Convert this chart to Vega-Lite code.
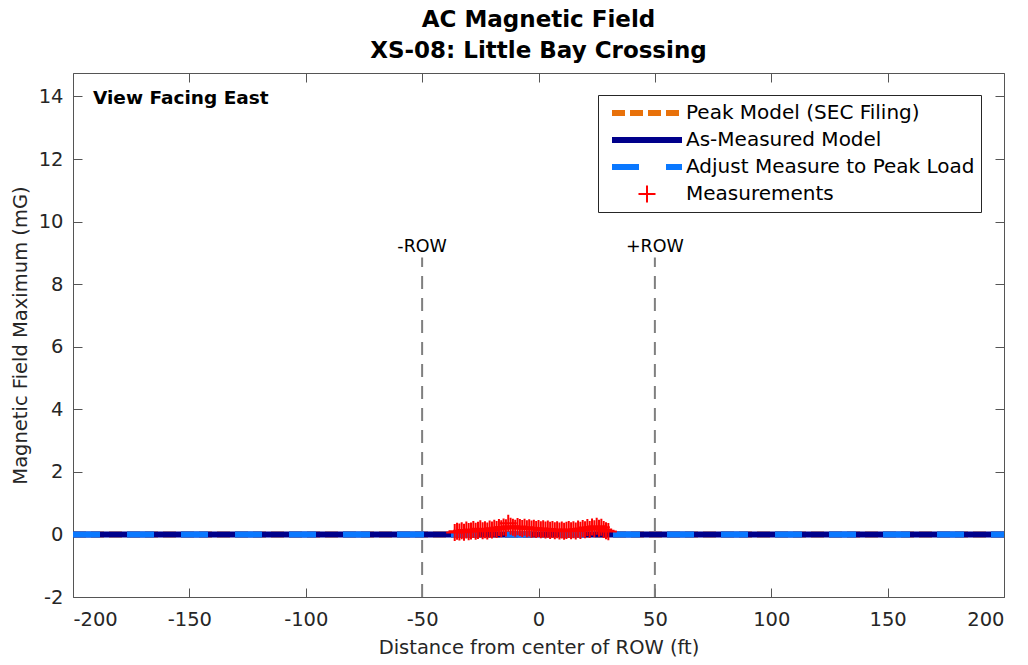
{
  "$schema": "https://vega.github.io/schema/vega-lite/v6.json",
  "width": 931,
  "height": 524,
  "autosize": {"type": "none"},
  "padding": {"left": 73, "top": 73, "right": 24, "bottom": 68},
  "background": "white",
  "title": {
    "text": ["AC Magnetic Field", "XS-08: Little Bay Crossing"],
    "font": "DejaVu Sans",
    "fontSize": 23,
    "fontWeight": "bold",
    "color": "#000000",
    "lineHeight": 31,
    "anchor": "middle",
    "baseline": "bottom",
    "offset": -13
  },
  "datasets": {
    "lines": [
      {"series": "Peak Model (SEC Filing)", "x": -200, "y": 0},
      {"series": "Peak Model (SEC Filing)", "x": -150, "y": 0},
      {"series": "Peak Model (SEC Filing)", "x": -100, "y": 0},
      {"series": "Peak Model (SEC Filing)", "x": -50, "y": 0},
      {"series": "Peak Model (SEC Filing)", "x": 0, "y": 0},
      {"series": "Peak Model (SEC Filing)", "x": 50, "y": 0},
      {"series": "Peak Model (SEC Filing)", "x": 100, "y": 0},
      {"series": "Peak Model (SEC Filing)", "x": 150, "y": 0},
      {"series": "Peak Model (SEC Filing)", "x": 200, "y": 0},
      {"series": "As-Measured Model", "x": -200, "y": 0},
      {"series": "As-Measured Model", "x": -150, "y": 0},
      {"series": "As-Measured Model", "x": -100, "y": 0},
      {"series": "As-Measured Model", "x": -50, "y": 0},
      {"series": "As-Measured Model", "x": 0, "y": 0},
      {"series": "As-Measured Model", "x": 50, "y": 0},
      {"series": "As-Measured Model", "x": 100, "y": 0},
      {"series": "As-Measured Model", "x": 150, "y": 0},
      {"series": "As-Measured Model", "x": 200, "y": 0},
      {"series": "Adjust Measure to Peak Load", "x": -200, "y": 0},
      {"series": "Adjust Measure to Peak Load", "x": -150, "y": 0},
      {"series": "Adjust Measure to Peak Load", "x": -100, "y": 0},
      {"series": "Adjust Measure to Peak Load", "x": -50, "y": 0},
      {"series": "Adjust Measure to Peak Load", "x": 0, "y": 0},
      {"series": "Adjust Measure to Peak Load", "x": 50, "y": 0},
      {"series": "Adjust Measure to Peak Load", "x": 100, "y": 0},
      {"series": "Adjust Measure to Peak Load", "x": 150, "y": 0},
      {"series": "Adjust Measure to Peak Load", "x": 200, "y": 0}
    ],
    "meas": [
      {"series": "Measurements", "x": -36, "y": 0.06},
      {"series": "Measurements", "x": -35, "y": 0.10},
      {"series": "Measurements", "x": -34, "y": 0.08},
      {"series": "Measurements", "x": -33, "y": 0.12},
      {"series": "Measurements", "x": -32, "y": 0.07},
      {"series": "Measurements", "x": -31, "y": 0.14},
      {"series": "Measurements", "x": -30, "y": 0.09},
      {"series": "Measurements", "x": -29, "y": 0.11},
      {"series": "Measurements", "x": -28, "y": 0.16},
      {"series": "Measurements", "x": -27, "y": 0.10},
      {"series": "Measurements", "x": -26, "y": 0.13},
      {"series": "Measurements", "x": -25, "y": 0.18},
      {"series": "Measurements", "x": -24, "y": 0.12},
      {"series": "Measurements", "x": -23, "y": 0.15},
      {"series": "Measurements", "x": -22, "y": 0.11},
      {"series": "Measurements", "x": -21, "y": 0.17},
      {"series": "Measurements", "x": -20, "y": 0.14},
      {"series": "Measurements", "x": -19, "y": 0.20},
      {"series": "Measurements", "x": -18, "y": 0.16},
      {"series": "Measurements", "x": -17, "y": 0.22},
      {"series": "Measurements", "x": -16, "y": 0.18},
      {"series": "Measurements", "x": -15, "y": 0.24},
      {"series": "Measurements", "x": -14, "y": 0.21},
      {"series": "Measurements", "x": -13, "y": 0.36},
      {"series": "Measurements", "x": -12, "y": 0.26},
      {"series": "Measurements", "x": -11, "y": 0.23},
      {"series": "Measurements", "x": -10, "y": 0.20},
      {"series": "Measurements", "x": -9, "y": 0.25},
      {"series": "Measurements", "x": -8, "y": 0.22},
      {"series": "Measurements", "x": -7, "y": 0.19},
      {"series": "Measurements", "x": -6, "y": 0.23},
      {"series": "Measurements", "x": -5, "y": 0.18},
      {"series": "Measurements", "x": -4, "y": 0.21},
      {"series": "Measurements", "x": -3, "y": 0.17},
      {"series": "Measurements", "x": -2, "y": 0.20},
      {"series": "Measurements", "x": -1, "y": 0.16},
      {"series": "Measurements", "x": 0, "y": 0.19},
      {"series": "Measurements", "x": 1, "y": 0.15},
      {"series": "Measurements", "x": 2, "y": 0.18},
      {"series": "Measurements", "x": 3, "y": 0.14},
      {"series": "Measurements", "x": 4, "y": 0.17},
      {"series": "Measurements", "x": 5, "y": 0.13},
      {"series": "Measurements", "x": 6, "y": 0.16},
      {"series": "Measurements", "x": 7, "y": 0.12},
      {"series": "Measurements", "x": 8, "y": 0.15},
      {"series": "Measurements", "x": 9, "y": 0.11},
      {"series": "Measurements", "x": 10, "y": 0.14},
      {"series": "Measurements", "x": 11, "y": 0.10},
      {"series": "Measurements", "x": 12, "y": 0.13},
      {"series": "Measurements", "x": 13, "y": 0.16},
      {"series": "Measurements", "x": 14, "y": 0.12},
      {"series": "Measurements", "x": 15, "y": 0.15},
      {"series": "Measurements", "x": 16, "y": 0.11},
      {"series": "Measurements", "x": 17, "y": 0.17},
      {"series": "Measurements", "x": 18, "y": 0.13},
      {"series": "Measurements", "x": 19, "y": 0.19},
      {"series": "Measurements", "x": 20, "y": 0.15},
      {"series": "Measurements", "x": 21, "y": 0.22},
      {"series": "Measurements", "x": 22, "y": 0.16},
      {"series": "Measurements", "x": 23, "y": 0.24},
      {"series": "Measurements", "x": 24, "y": 0.18},
      {"series": "Measurements", "x": 25, "y": 0.26},
      {"series": "Measurements", "x": 26, "y": 0.20},
      {"series": "Measurements", "x": 27, "y": 0.23},
      {"series": "Measurements", "x": 28, "y": 0.16},
      {"series": "Measurements", "x": 29, "y": 0.12},
      {"series": "Measurements", "x": 30, "y": 0.09}
    ],
    "row": [
      {"x": -50, "y0": -2, "y1": 8.85, "ty": 9.2, "label": "-ROW"},
      {"x": 50, "y0": -2, "y1": 8.85, "ty": 9.2, "label": "+ROW"}
    ],
    "note": [
      {"x": -191.4, "y": 13.96, "label": "View Facing East"}
    ]
  },
  "layer": [
    {
      "data": {"name": "lines"},
      "transform": [{"filter": "datum.series === 'Peak Model (SEC Filing)'"}],
      "mark": {"type": "line", "strokeWidth": 6, "strokeCap": "butt"},
      "encoding": {
        "x": {
          "field": "x", "type": "quantitative",
          "scale": {"domain": [-200, 200], "nice": false, "zero": false},
          "axis": {
            "values": [-200, -150, -100, -50, 0, 50, 100, 150, 200],
            "title": "Distance from center of ROW (ft)",
            "orient": "bottom",
            "labelPadding": 22,
            "titlePadding": 10,
            "labelExpr": "replace(datum.label, '\u2212', '-')"
          }
        },
        "y": {
          "field": "y", "type": "quantitative",
          "scale": {"domain": [-2, 14.75], "nice": false, "zero": false},
          "axis": {
            "values": [-2, 0, 2, 4, 6, 8, 10, 12, 14],
            "title": "Magnetic Field Maximum (mG)",
            "orient": "left",
            "labelPadding": 19,
            "titlePadding": 8,
            "labelExpr": "replace(datum.label, '\u2212', '-')"
          }
        },
        "color": {
          "field": "series", "type": "nominal",
          "scale": {
            "domain": ["Peak Model (SEC Filing)", "As-Measured Model", "Adjust Measure to Peak Load", "Measurements"],
            "range": ["#e8710a", "#00008b", "#0a78ff", "#ff0000"]
          },
          "legend": {"title": null}
        },
        "strokeDash": {
          "field": "series", "type": "nominal",
          "scale": {
            "domain": ["Peak Model (SEC Filing)", "As-Measured Model", "Adjust Measure to Peak Load", "Measurements"],
            "range": [[13, 5], [1, 0], [27, 27], [1, 0]]
          },
          "legend": {"title": null}
        }
      }
    },
    {
      "data": {"name": "lines"},
      "transform": [{"filter": "datum.series === 'As-Measured Model'"}],
      "mark": {"type": "line", "strokeWidth": 6, "strokeCap": "butt"},
      "encoding": {
        "x": {"field": "x", "type": "quantitative", "axis": null},
        "y": {"field": "y", "type": "quantitative", "axis": null},
        "color": {"field": "series", "type": "nominal", "legend": {"title": null}},
        "strokeDash": {"field": "series", "type": "nominal", "legend": {"title": null}}
      }
    },
    {
      "data": {"name": "lines"},
      "transform": [{"filter": "datum.series === 'Adjust Measure to Peak Load'"}],
      "mark": {"type": "line", "strokeWidth": 6, "strokeCap": "butt"},
      "encoding": {
        "x": {"field": "x", "type": "quantitative", "axis": null},
        "y": {"field": "y", "type": "quantitative", "axis": null},
        "color": {"field": "series", "type": "nominal", "legend": {"title": null}},
        "strokeDash": {"field": "series", "type": "nominal", "legend": {"title": null}}
      }
    },
    {
      "data": {"name": "meas"},
      "mark": {"type": "point", "filled": false, "opacity": 1},
      "encoding": {
        "x": {"field": "x", "type": "quantitative", "axis": null},
        "y": {"field": "y", "type": "quantitative", "axis": null},
        "color": {"field": "series", "type": "nominal", "legend": {"title": null}},
        "shape": {
          "field": "series", "type": "nominal",
          "scale": {
            "domain": ["Peak Model (SEC Filing)", "As-Measured Model", "Adjust Measure to Peak Load", "Measurements"],
            "range": ["stroke", "stroke", "stroke", "M-1,0H1M0,-1V1"]
          },
          "legend": {"title": null}
        },
        "size": {
          "field": "series", "type": "nominal",
          "scale": {
            "type": "ordinal",
            "domain": ["Peak Model (SEC Filing)", "As-Measured Model", "Adjust Measure to Peak Load", "Measurements"],
            "range": [4900, 4900, 4900, 290]
          },
          "legend": {"title": null}
        },
        "strokeWidth": {
          "field": "series", "type": "nominal",
          "scale": {
            "type": "ordinal",
            "domain": ["Peak Model (SEC Filing)", "As-Measured Model", "Adjust Measure to Peak Load", "Measurements"],
            "range": [6, 6, 6, 2]
          },
          "legend": {"title": null}
        }
      }
    },
    {
      "data": {"name": "row"},
      "mark": {"type": "rule", "color": "#7f7f7f", "strokeWidth": 2, "strokeDash": [13, 9]},
      "encoding": {
        "x": {"field": "x", "type": "quantitative", "axis": null},
        "y": {"field": "y0", "type": "quantitative", "axis": null},
        "y2": {"field": "y1"}
      }
    },
    {
      "data": {"name": "row"},
      "mark": {"type": "text", "font": "DejaVu Sans", "fontSize": 17.5, "color": "#000000", "align": "center", "baseline": "middle"},
      "encoding": {
        "x": {"field": "x", "type": "quantitative", "axis": null},
        "y": {"field": "ty", "type": "quantitative", "axis": null},
        "text": {"field": "label"}
      }
    },
    {
      "data": {"name": "note"},
      "mark": {"type": "text", "font": "DejaVu Sans", "fontSize": 18.5, "fontWeight": "bold", "color": "#000000", "align": "left", "baseline": "middle"},
      "encoding": {
        "x": {
          "field": "x", "type": "quantitative",
          "axis": {"orient": "top", "labels": false, "title": null, "values": [-200, -150, -100, -50, 0, 50, 100, 150, 200]}
        },
        "y": {
          "field": "y", "type": "quantitative",
          "axis": {"orient": "right", "labels": false, "title": null, "values": [-2, 0, 2, 4, 6, 8, 10, 12, 14]}
        },
        "text": {"field": "label"}
      }
    }
  ],
  "resolve": {"axis": {"x": "independent", "y": "independent"}},
  "config": {
    "view": {"stroke": "#555555", "strokeWidth": 1},
    "axis": {
      "domain": false,
      "grid": false,
      "ticks": true,
      "tickColor": "#555555",
      "tickWidth": 1,
      "tickSize": -9,
      "labelFont": "DejaVu Sans",
      "labelFontSize": 19.5,
      "labelColor": "#262626",
      "titleFont": "DejaVu Sans",
      "titleFontSize": 19.5,
      "titleFontWeight": "normal",
      "titleColor": "#262626"
    },
    "legend": {
      "orient": "none",
      "legendX": 525,
      "legendY": 22,
      "strokeColor": "#262626",
      "fillColor": "#ffffff",
      "padding": 6,
      "labelFont": "DejaVu Sans",
      "labelFontSize": 20,
      "labelColor": "#000000",
      "labelOffset": 1,
      "labelLimit": 400,
      "symbolOffset": 5,
      "clipHeight": 24,
      "rowPadding": 3,
      "symbolOpacity": 1
    }
  }
}
